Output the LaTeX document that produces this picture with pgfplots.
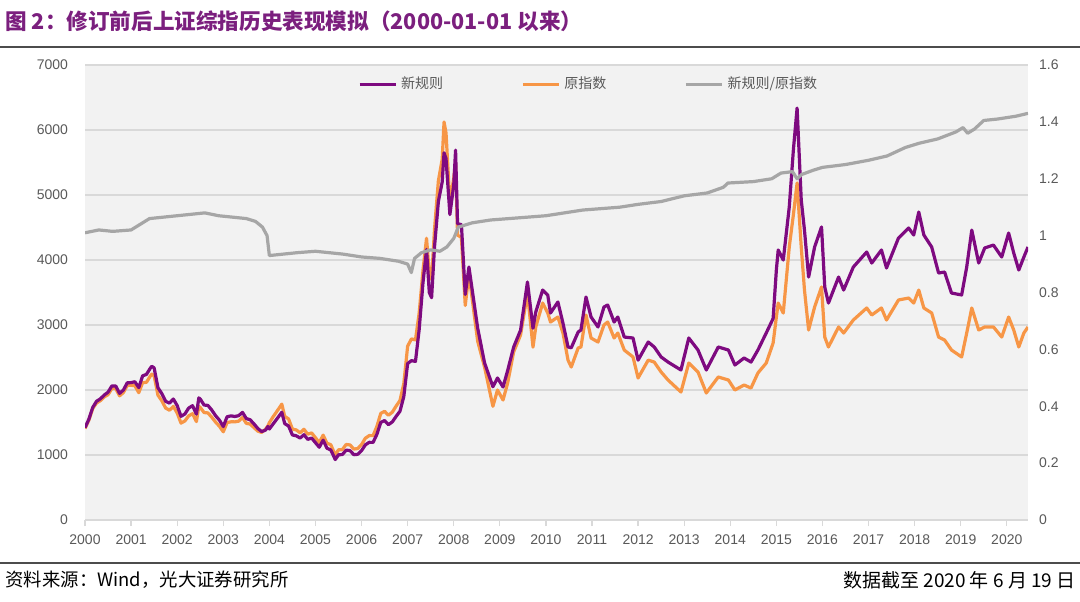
\documentclass[border=0pt]{standalone}
\usepackage{pgfplots}
\pgfplotsset{compat=1.18}
\usepackage{pgfplotstable}
\usepackage{fontspec}
\setmainfont{Liberation Sans}
\newfontfamily\cjk{Noto Sans CJK SC}
\definecolor{newc}{HTML}{7E0A80}
\definecolor{oldc}{HTML}{F79646}
\definecolor{ratc}{HTML}{A6A6A6}
\definecolor{titc}{HTML}{7B1F7E}
\definecolor{tickc}{HTML}{595959}
\definecolor{gridc}{HTML}{D9D9D9}
\definecolor{bgc}{HTML}{F2F2F2}

% x = year, o = original index, p = new rule index
\pgfplotstableread{
x o p
2000.000 1407 1421
2000.083 1535 1550
2000.167 1714 1731
2000.250 1800 1827
2000.333 1836 1864
2000.417 1894 1922
2000.500 1928 1967
2000.583 2023 2063
2000.667 2021 2061
2000.750 1910 1948
2000.833 1961 2000
2000.917 2070 2111
2001.000 2073 2114
2001.083 2065 2127
2001.167 1959 2037
2001.250 2112 2218
2001.333 2119 2240
2001.417 2214 2336
2001.450 2245 2365
2001.500 2218 2340
2001.583 1920 2035
2001.667 1834 1944
2001.750 1722 1825
2001.833 1689 1799
2001.917 1747 1861
2002.000 1646 1761
2002.083 1491 1595
2002.167 1524 1631
2002.250 1603 1723
2002.333 1636 1759
2002.417 1515 1629
2002.470 1748 1879
2002.500 1732 1862
2002.583 1653 1769
2002.667 1648 1763
2002.750 1581 1692
2002.833 1507 1605
2002.917 1442 1536
2003.000 1357 1438
2003.083 1499 1589
2003.167 1511 1602
2003.250 1510 1593
2003.333 1521 1605
2003.417 1577 1656
2003.500 1487 1561
2003.583 1476 1542
2003.667 1421 1478
2003.750 1367 1408
2003.833 1348 1361
2003.917 1397 1383
2003.970 1450 1440
2004.000 1497 1400
2004.083 1590 1479
2004.167 1675 1558
2004.270 1783 1658
2004.333 1595 1483
2004.417 1555 1446
2004.500 1399 1308
2004.583 1386 1296
2004.667 1342 1261
2004.750 1396 1312
2004.833 1320 1241
2004.917 1340 1260
2005.000 1266 1190
2005.083 1191 1120
2005.167 1306 1228
2005.250 1181 1104
2005.333 1159 1078
2005.430 998 930
2005.500 1080 1004
2005.583 1083 1007
2005.667 1162 1075
2005.750 1155 1068
2005.833 1092 1005
2005.917 1099 1011
2006.000 1161 1068
2006.083 1258 1157
2006.167 1299 1195
2006.250 1298 1194
2006.333 1440 1318
2006.417 1641 1502
2006.500 1672 1530
2006.583 1612 1467
2006.667 1658 1509
2006.750 1752 1594
2006.833 1837 1672
2006.917 2099 1900
2007.000 2675 2408
2007.083 2786 2452
2007.170 2771 2440
2007.250 3183 2928
2007.333 3841 3649
2007.410 4335 4162
2007.470 3800 3500
2007.520 3700 3420
2007.583 4471 4200
2007.667 5218 4900
2007.750 5552 5200
2007.790 6124 5650
2007.833 5955 5560
2007.917 4871 4700
2008.000 5262 5150
2008.040 5497 5690
2008.083 4383 4558
2008.167 4348 4544
2008.250 3300 3470
2008.330 3790 3892
2008.520 2750 2950
2008.670 2350 2415
2008.850 1750 2050
2008.950 2000 2185
2009.070 1846 2046
2009.170 2108 2300
2009.300 2585 2660
2009.450 2846 2920
2009.600 3492 3662
2009.720 2660 2950
2009.780 2970 3200
2009.930 3338 3538
2010.040 3185 3460
2010.100 3046 3185
2010.260 3123 3354
2010.370 2877 3030
2010.480 2460 2662
2010.550 2354 2650
2010.700 2646 2892
2010.760 2662 2923
2010.870 3154 3431
2010.980 2800 3123
2011.130 2738 2970
2011.260 3000 3277
2011.340 3046 3308
2011.480 2800 3046
2011.560 2877 3123
2011.700 2615 2815
2011.890 2508 2800
2012.000 2185 2460
2012.220 2460 2738
2012.350 2430 2662
2012.500 2277 2508
2012.650 2154 2430
2012.930 1969 2308
2013.100 2415 2800
2013.300 2277 2615
2013.480 1954 2308
2013.740 2200 2662
2013.960 2154 2615
2014.100 2000 2385
2014.300 2077 2492
2014.450 2030 2430
2014.600 2262 2615
2014.780 2415 2877
2014.930 2723 3100
2015.000 3123 3846
2015.040 3338 4154
2015.150 3185 4000
2015.280 4200 4815
2015.370 4700 5700
2015.450 5185 6338
2015.540 4200 4923
2015.610 3538 4460
2015.700 2923 3738
2015.830 3277 4200
2015.980 3585 4508
2016.050 2815 3585
2016.130 2662 3338
2016.350 2970 3738
2016.460 2877 3538
2016.670 3077 3892
2016.960 3262 4123
2017.070 3154 3954
2017.280 3262 4154
2017.390 3077 3877
2017.650 3385 4338
2017.870 3415 4492
2017.980 3338 4385
2018.090 3538 4738
2018.200 3262 4385
2018.370 3185 4200
2018.520 2815 3800
2018.650 2769 3815
2018.800 2615 3492
2019.020 2508 3462
2019.130 2877 3892
2019.240 3262 4460
2019.390 2923 3954
2019.520 2970 4185
2019.710 2970 4230
2019.890 2815 4046
2020.040 3123 4415
2020.150 2923 4108
2020.260 2662 3846
2020.370 2877 4046
2020.460 2970 4200
}\idxdata

% ratio new / original (right axis)
\pgfplotstableread{
x r
2000.00 1.010
2000.30 1.020
2000.60 1.015
2001.00 1.020
2001.20 1.040
2001.40 1.060
2001.70 1.065
2002.00 1.070
2002.30 1.075
2002.60 1.080
2002.90 1.070
2003.20 1.065
2003.50 1.060
2003.70 1.050
2003.85 1.030
2003.95 1.000
2004.00 0.930
2004.30 0.935
2004.60 0.940
2005.00 0.945
2005.30 0.940
2005.60 0.935
2006.00 0.925
2006.40 0.920
2006.80 0.910
2007.00 0.900
2007.08 0.870
2007.15 0.920
2007.30 0.940
2007.50 0.950
2007.70 0.945
2007.85 0.960
2008.00 0.990
2008.10 1.030
2008.40 1.045
2008.80 1.055
2009.20 1.060
2009.60 1.065
2010.00 1.070
2010.40 1.080
2010.80 1.090
2011.20 1.095
2011.60 1.100
2012.00 1.110
2012.50 1.120
2013.00 1.140
2013.50 1.150
2013.85 1.170
2013.95 1.185
2014.50 1.190
2014.90 1.200
2015.10 1.220
2015.35 1.225
2015.45 1.200
2015.55 1.215
2015.80 1.230
2016.00 1.240
2016.50 1.250
2017.00 1.265
2017.40 1.280
2017.80 1.310
2018.10 1.325
2018.50 1.340
2018.90 1.365
2019.05 1.380
2019.15 1.360
2019.30 1.375
2019.50 1.405
2019.80 1.410
2020.20 1.420
2020.46 1.430
}\ratiodata

\begin{document}
\begin{tikzpicture}
\path[use as bounding box] (0,0) rectangle (540pt,-300.5pt);
\node[anchor=west, inner sep=0pt, text=titc, font=\cjk\bfseries\fontsize{10.8}{12}\selectfont] at (2.5pt,-10.5pt) {图 2：修订前后上证综指历史表现模拟（2000-01-01 以来）};
\draw[line width=0.8pt, black!70] (0,-23.5pt) -- (540pt,-23.5pt);
\draw[line width=0.8pt, black!70] (0,-281.5pt) -- (540pt,-281.5pt);
\node[anchor=west, inner sep=0pt, font=\cjk\fontsize{9.2}{10}\selectfont] at (2.5pt,-290pt) {资料来源：Wind，光大证券研究所};
\node[anchor=east, inner sep=0pt, font=\cjk\fontsize{9.5}{10}\selectfont] at (538pt,-290pt) {数据截至 2020 年 6 月 19 日};

\begin{axis}[
    at={(42.5pt,-260pt)}, anchor=south west,
    scale only axis, width=471.5pt, height=227.5pt,
    xmin=2000, xmax=2020.46,
    ymin=0, ymax=7000,
    xtick={2000,2001,...,2020},
    ytick={0,1000,...,7000},
    axis x line*=bottom, axis y line*=left,
    x axis line style={gridc, line width=0.6pt, -},
    y axis line style={draw=none},
    axis background/.style={fill=bgc},
    ymajorgrids=true,
    grid style={gridc, line width=0.6pt},
    tick align=outside,
    major tick length=3pt,
    xtick style={gridc, line width=0.6pt},
    ytick style={draw=none},
    /pgf/number format/.cd, 1000 sep={}, assume math mode=true, /pgfplots/.cd,
    ticklabel style={font=\fontsize{7}{8}\selectfont, text=tickc},
    xticklabel style={yshift=-1pt},
    yticklabel style={xshift=-2pt},
]
    \addplot[oldc, line width=1.6pt, line join=round] table[x=x, y=o] {\idxdata};
    \addplot[newc, line width=1.6pt, line join=round] table[x=x, y=p] {\idxdata};
\end{axis}

\begin{axis}[
    at={(42.5pt,-260pt)}, anchor=south west,
    scale only axis, width=471.5pt, height=227.5pt,
    xmin=2000, xmax=2020.46,
    ymin=0, ymax=1.6,
    ytick={0,0.2,0.4,0.6,0.8,1,1.2,1.4,1.6},
    axis x line=none, axis y line*=right,
    y axis line style={draw=none},
    ytick style={draw=none},
    /pgf/number format/.cd, assume math mode=true, /pgfplots/.cd,
    ticklabel style={font=\fontsize{7}{8}\selectfont, text=tickc},
    yticklabel style={xshift=2pt},
    legend style={at={(0.535,0.958)}, anchor=center, legend columns=3,
        draw=none, fill=none, font=\cjk\fontsize{7}{8}\selectfont, text=tickc,
        /tikz/every even column/.append style={column sep=37pt}},
    legend image code/.code={\draw[#1] (0pt,0pt) -- (18pt,0pt);},
]
    \addlegendimage{newc, line width=1.6pt}
    \addlegendentry{新规则}
    \addlegendimage{oldc, line width=1.6pt}
    \addlegendentry{原指数}
    \addplot[ratc, line width=1.6pt, line join=round] table[x=x, y=r] {\ratiodata};
    \addlegendentry{新规则/原指数}
\end{axis}
\end{tikzpicture}
\end{document}
